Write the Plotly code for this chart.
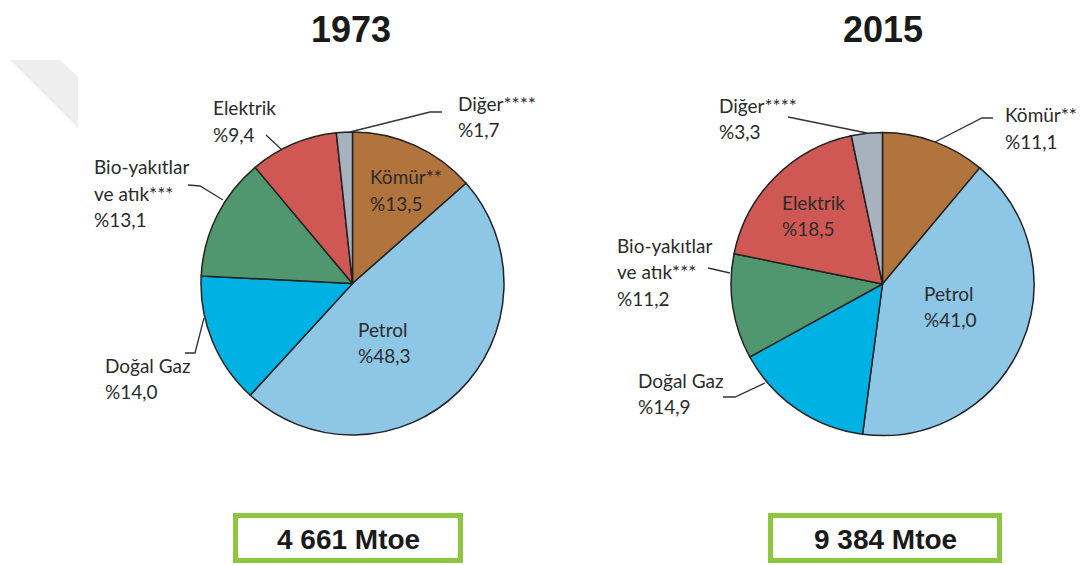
import plotly.graph_objects as go

W, H = 1088, 565

categories = ["Kömür**", "Petrol", "Doğal Gaz", "Bio-yakıtlar ve atık***", "Elektrik", "Diğer****"]
colors = ["#B0743C", "#8EC6E6", "#00B2E4", "#50966E", "#D05854", "#A8B2BE"]
values_1973 = [13.5, 48.3, 14.0, 13.1, 9.4, 1.7]
values_2015 = [11.1, 41.0, 14.9, 11.2, 18.5, 3.3]
years = ["1973", "2015"]
totals = ["4 661 Mtoe", "9 384 Mtoe"]

label_lines = [["Kömür**"], ["Petrol"], ["Doğal Gaz"], ["Bio-yakıtlar", "ve atık***"], ["Elektrik"], ["Diğer****"]]

def fmt(v):
    return "%" + ("%.1f" % v).replace(".", ",")

def px(x):
    return x / W

def py(y):
    return 1 - y / H

# pie geometry (pixels)
pies = [
    dict(cx=352.5, cy=283.5, r=151.5, values=values_1973,
         pos=[(368, 177), (356, 329), (103, 365), (92, 167), (211, 108), (456, 103)],
         leaders=[None, None,
                  [(185, 353), (195, 353), (204, 318)],
                  [(188, 185), (200, 186), (223, 200)],
                  [(266, 135), (281, 149)],
                  [(442, 112), (430, 112), (350, 132)]]),
    dict(cx=882.5, cy=284, r=151.5, values=values_2015,
         pos=[(1003, 115), (922, 293), (636, 380), (615, 245), (780, 202), (717, 105)],
         leaders=[[(993, 118), (982, 118), (935, 142)], None,
                  [(723, 397), (735, 397), (765, 383)],
                  [(708, 268), (730, 273)],
                  None,
                  [(788, 117), (867, 133)]]),
]

fig = go.Figure()
annotations = []
shapes = []
label_font = dict(family="Lato, Open Sans, sans-serif", size=19, color="#2b2b2b")

for p in pies:
    fig.add_trace(go.Pie(
        labels=categories, values=p["values"], sort=False, direction="clockwise",
        rotation=0, textinfo="none", hoverinfo="label+value",
        marker=dict(colors=colors, line=dict(color="#222222", width=1.5)),
        domain=dict(x=[px(p["cx"] - p["r"]), px(p["cx"] + p["r"])],
                    y=[py(p["cy"] + p["r"]), py(p["cy"] - p["r"])]),
        showlegend=False,
    ))
    for i, (lx, ly) in enumerate(p["pos"]):
        lines = label_lines[i] + [fmt(p["values"][i])]
        for j, t in enumerate(lines):
            annotations.append(dict(x=px(lx), y=py(ly + j * 26.5), xref="paper", yref="paper",
                                    text=t, showarrow=False, xanchor="left", yanchor="middle",
                                    font=label_font))
    for ld in p["leaders"]:
        if ld:
            path = "M " + " L ".join("%f,%f" % (px(a), py(b)) for a, b in ld)
            shapes.append(dict(type="path", path=path, xref="paper", yref="paper",
                               line=dict(color="#333333", width=1.3)))

# titles
for yr, cx in zip(years, [351, 883]):
    annotations.append(dict(x=px(cx), y=py(29), xref="paper", yref="paper", text="<b>%s</b>" % yr,
                            showarrow=False, xanchor="center", yanchor="middle",
                            font=dict(family="Liberation Sans, Arial, sans-serif", size=36, color="#1a1a1a")))

# total boxes
boxes = [(233, 463), (768, 1002)]
for t, (x0, x1) in zip(totals, boxes):
    shapes.append(dict(type="rect", xref="paper", yref="paper", x0=px(x0 + 2.5), x1=px(x1 - 2.5),
                       y0=py(560.5), y1=py(515.5), line=dict(color="#8DC63F", width=5), fillcolor="white"))
    annotations.append(dict(x=px((x0 + x1) / 2), y=py(539), xref="paper", yref="paper", text="<b>%s</b>" % t,
                            showarrow=False, xanchor="center", yanchor="middle",
                            font=dict(family="Liberation Sans, Arial, sans-serif", size=28, color="#1a1a1a")))

# decorative corner shape
shapes.append(dict(type="path", xref="paper", yref="paper", layer="below",
                   path="M %f,%f L %f,%f L %f,%f L %f,%f Z" % (px(10), py(60), px(60), py(60), px(78), py(77), px(78), py(128)),
                   fillcolor="#EEEEEE", line=dict(width=0)))

fig.update_layout(width=W, height=H, margin=dict(l=0, r=0, t=0, b=0),
                  paper_bgcolor="white", plot_bgcolor="white",
                  annotations=annotations, shapes=shapes)

fig.write_html("out.html", config={"displayModeBar": False},
               post_script="document.body.style.margin='0';document.body.style.overflow='hidden';")
